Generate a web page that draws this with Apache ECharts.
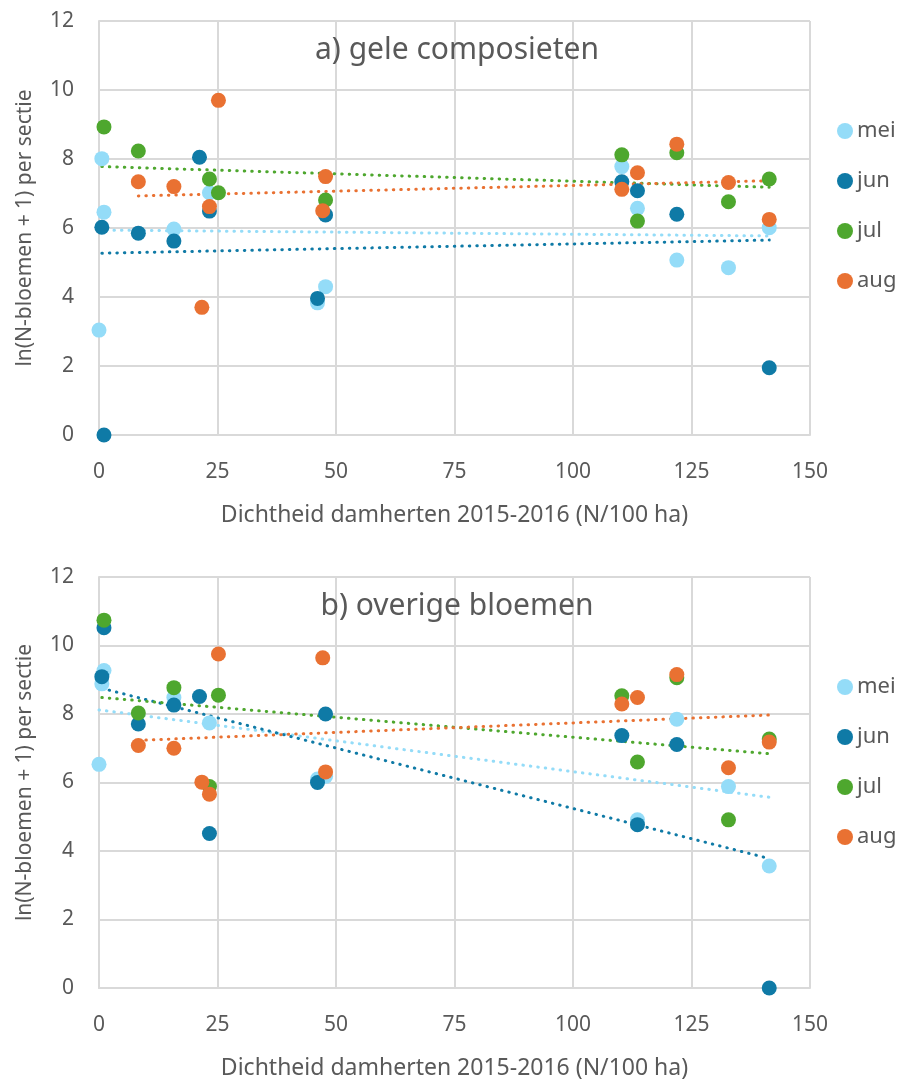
<!DOCTYPE html>
<html>
<head>
<meta charset="utf-8">
<script src="https://cdn.jsdelivr.net/npm/echarts@6/dist/echarts.min.js"></script>
<style>html,body{margin:0;padding:0;background:#fff;}#c{width:903px;height:1081px;}</style>
</head>
<body>
<div id="c"></div>
<script>
// ---- data: chart a) gele composieten ----
const seriesNames = ['mei', 'jun', 'jul', 'aug'];
const colors = ['#94DCF8', '#0F7AA6', '#4EA72E', '#E97132'];
const xTicks = [0, 25, 50, 75, 100, 125, 150];
const yTicks = [0, 2, 4, 6, 8, 10, 12];

const a_mei = [[0, 3.04], [0.6, 8.01], [1.05, 6.46], [15.8, 5.97], [23.3, 7.02], [46.1, 3.83], [47.8, 4.30], [110.3, 7.78], [113.6, 6.57], [121.9, 5.07], [132.8, 4.85], [141.4, 6.01]];
const a_jun = [[0.6, 6.02], [1.05, 0], [8.3, 5.85], [15.8, 5.62], [21.2, 8.05], [23.3, 6.49], [46.1, 3.96], [47.8, 6.38], [110.3, 7.34], [113.6, 7.08], [121.9, 6.40], [141.4, 1.95]];
const a_jul = [[1.05, 8.93], [8.3, 8.23], [23.3, 7.42], [25.2, 7.02], [47.8, 6.81], [110.3, 8.12], [113.6, 6.20], [121.9, 8.18], [132.8, 6.76], [141.4, 7.42]];
const a_aug = [[8.3, 7.34], [15.8, 7.20], [21.7, 3.70], [23.3, 6.62], [25.2, 9.70], [47.2, 6.50], [47.8, 7.49], [110.3, 7.12], [113.6, 7.60], [121.9, 8.43], [132.8, 7.32], [141.4, 6.25]];
// trendline endpoints [x0, y0, x1, y1]
const a_trend_mei = [0, 5.94, 141.4, 5.77];
const a_trend_jun = [0.6, 5.27, 141.4, 5.65];
const a_trend_jul = [0.6, 7.78, 141.4, 7.18];
const a_trend_aug = [8.3, 6.93, 141.4, 7.37];

// ---- data: chart b) overige bloemen ----
const b_mei = [[0, 6.53], [0.6, 8.88], [1.05, 9.27], [15.8, 8.48], [23.3, 7.74], [46.1, 6.10], [47.8, 6.18], [113.6, 4.91], [121.9, 7.85], [132.8, 5.88], [141.4, 3.56]];
const b_jun = [[0.6, 9.09], [1.05, 10.52], [8.3, 7.71], [15.8, 8.26], [21.2, 8.51], [23.3, 4.51], [46.1, 6.00], [47.8, 8.00], [110.3, 7.37], [113.6, 4.77], [121.9, 7.11], [141.4, 0]];
const b_jul = [[1.05, 10.74], [8.3, 8.03], [15.8, 8.77], [23.3, 5.88], [25.2, 8.55], [110.3, 8.53], [113.6, 6.60], [121.9, 9.06], [132.8, 4.91], [141.4, 7.27]];
const b_aug = [[8.3, 7.08], [15.8, 7.00], [21.7, 6.01], [23.3, 5.66], [25.2, 9.75], [47.2, 9.64], [47.8, 6.31], [110.3, 8.29], [113.6, 8.48], [121.9, 9.15], [132.8, 6.43], [141.4, 7.18]];
const b_trend_mei = [0, 8.12, 141.4, 5.57];
const b_trend_jun = [0.6, 8.75, 141.4, 3.78];
const b_trend_jul = [0.6, 8.48, 141.4, 6.84];
const b_trend_aug = [8.3, 7.23, 141.4, 7.97];

const titles = ['a) gele composieten', 'b) overige bloemen'];
const xName = 'Dichtheid damherten 2015-2016 (N/100 ha)';
const yName = 'ln(N-bloemen + 1) per sectie';

const FONT = 'Noto Sans';
const TXT = '#595959';
const GRID = '#d9d9d9';

const chartData = [
  {pts: [a_mei, a_jun, a_jul, a_aug], trends: [a_trend_mei, a_trend_jun, a_trend_jul, a_trend_aug]},
  {pts: [b_mei, b_jun, b_jul, b_aug], trends: [b_trend_mei, b_trend_jun, b_trend_jul, b_trend_aug]}
];
const grids = [
  {left: 99, width: 711, top: 21, height: 414},
  {left: 99, width: 711, top: 577, height: 413}
];

const option = {
  backgroundColor: '#fff',
  animation: false,
  textStyle: {fontFamily: FONT},
  title: titles.map((t, i) => ({
    text: t, left: 452, top: grids[i].top + 9, textAlign: 'center',
    textStyle: {fontFamily: FONT, fontSize: 30, fontWeight: 'normal', color: TXT}
  })),
  grid: grids,
  legend: grids.map((g, i) => ({
    data: seriesNames, orient: 'vertical', left: 832, top: g.top + 94,
    itemWidth: 16, itemHeight: 16, itemGap: 28, icon: 'circle',
    textStyle: {fontFamily: FONT, fontSize: 22, color: TXT, padding: [0, 0, 0, -1]}
  })),
  xAxis: grids.map((g, i) => ({
    type: 'value', gridIndex: i, min: 0, max: 150, interval: 25,
    name: xName, nameLocation: 'middle', nameGap: 69,
    nameTextStyle: {fontFamily: FONT, fontSize: 23, color: TXT},
    axisLine: {show: true, lineStyle: {color: GRID, width: 2}},
    axisTick: {show: false},
    axisLabel: {fontFamily: FONT, fontSize: 21, color: TXT, margin: 27},
    splitLine: {show: true, lineStyle: {color: GRID, width: 2}}
  })),
  yAxis: grids.map((g, i) => ({
    type: 'value', gridIndex: i, min: 0, max: 12, interval: 2,
    name: yName, nameLocation: 'middle', nameGap: 63,
    nameTextStyle: {fontFamily: FONT, fontSize: 21, color: TXT},
    axisLine: {show: true, lineStyle: {color: GRID, width: 2}},
    axisTick: {show: false},
    axisLabel: {fontFamily: FONT, fontSize: 21, color: TXT, margin: 25},
    splitLine: {show: true, lineStyle: {color: GRID, width: 2}}
  })),
  series: []
};

chartData.forEach((cd, gi) => {
  cd.trends.forEach((t, si) => {
    option.series.push({
      type: 'line', name: seriesNames[si] + ' trend ' + gi, xAxisIndex: gi, yAxisIndex: gi,
      data: [[t[0], t[1]], [t[2], t[3]]], symbol: 'none', z: 2, silent: true,
      lineStyle: {color: colors[si], width: 3, type: [0.5, 7], cap: 'round'}
    });
  });
  cd.pts.forEach((p, si) => {
    option.series.push({
      type: 'scatter', name: seriesNames[si], xAxisIndex: gi, yAxisIndex: gi,
      data: p, symbol: 'circle', symbolSize: 15, z: 3,
      itemStyle: {color: colors[si], opacity: 1}
    });
  });
});

option.color = colors;
const chart = echarts.init(document.getElementById('c'), null, {renderer: 'canvas'});
chart.setOption(option);
</script>
</body>
</html>
